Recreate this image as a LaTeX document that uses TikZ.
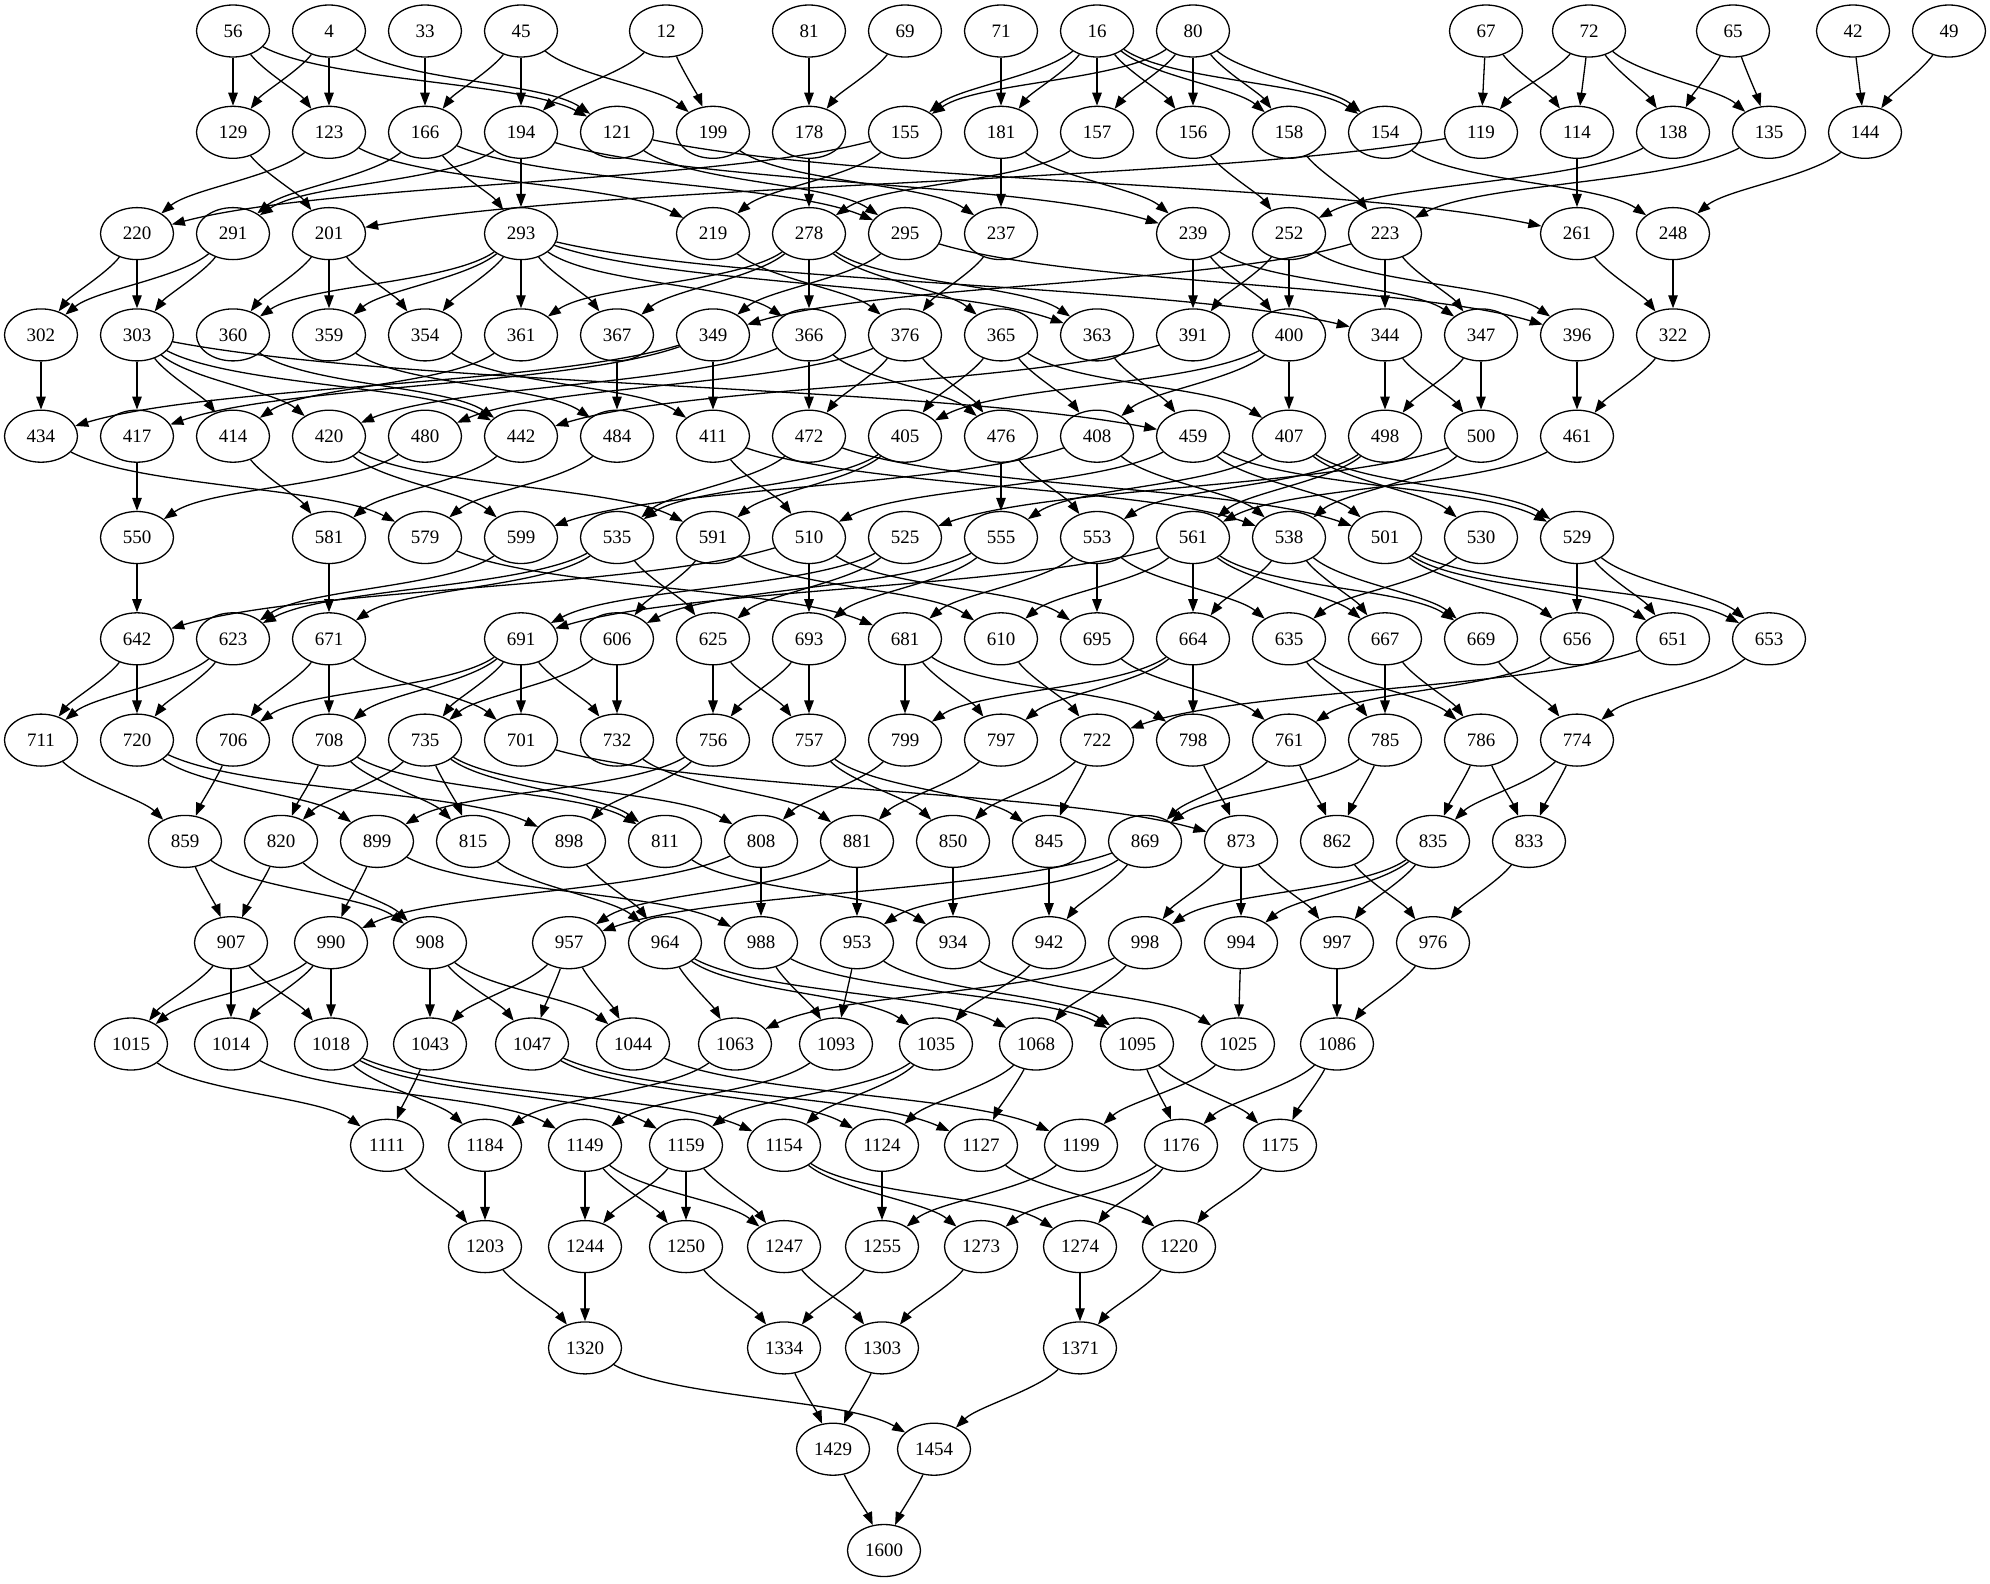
\documentclass[tikz,border=0pt]{standalone}
\usepackage{fontspec}
\setmainfont{Liberation Serif}
\usetikzlibrary{shapes.geometric,arrows.meta,calc}
\newcommand\mkrow[2]{\foreach \nm/\xx in {#2} {\node[nd] (n\nm) at (\xx,#1) {\nm};}}
\newcommand\mke[2]{\draw[edge] let \p1=(n#1.center), \p2=(n#2.center),
  \n5={min(1,abs(\x2-\x1)/300)},
  \n1={(\x2-\x1)*(0.3333-0.0833*\n5)}, \n2={(\y2-\y1)*(0.3333+0.1667*\n5)},
  \n3={(\x1-\x2)*(0.3333-0.0833*\n5)}, \n4={(\y1-\y2)*(0.3333+0.1667*\n5)} in
  (n#1) .. controls +(\n1,\n2) and +(\n3,\n4) .. (n#2);}
\begin{document}
\begin{tikzpicture}[x=1pt,y=-1pt,
  nd/.style={draw, line width=1.3pt, ellipse, minimum width=73pt, minimum height=52pt, inner sep=0pt, font=\fontsize{19}{22}\selectfont},
  edge/.style={line width=1.3pt, -{Triangle[length=13pt,width=9.5pt]}}]
\useasboundingbox (0,0) rectangle (1990,1583);
\mkrow{31}{56/233,4/329,33/425,45/521,12/666,81/809,69/905,71/1001,16/1097,80/1193,67/1486,72/1589,65/1733,42/1853,49/1949}
\mkrow{132.3}{129/233,123/329,166/425,194/521,121/617,199/713,178/809,155/905,181/1001,157/1097,156/1193,158/1289,154/1385,119/1481,114/1577,138/1673,135/1769,144/1865}
\mkrow{233.6}{220/137,291/233,201/329,293/521,219/713,278/809,295/905,237/1001,239/1193,252/1289,223/1385,261/1577,248/1673}
\mkrow{334.9}{302/41,303/137,360/233,359/329,354/425,361/521,367/617,349/713,366/809,376/905,365/1001,363/1097,391/1193,400/1289,344/1385,347/1481,396/1577,322/1673}
\mkrow{436.2}{434/41,417/137,414/233,420/329,480/425,442/521,484/617,411/713,472/809,405/905,476/1001,408/1097,459/1193,407/1289,498/1385,500/1481,461/1577}
\mkrow{537.5}{550/137,581/329,579/425,599/521,535/617,591/713,510/809,525/905,555/1001,553/1097,561/1193,538/1289,501/1385,530/1481,529/1577}
\mkrow{638.8}{642/137,623/233,671/329,691/521,606/617,625/713,693/809,681/905,610/1001,695/1097,664/1193,635/1289,667/1385,669/1481,656/1577,651/1673,653/1769}
\mkrow{740.1}{711/41,720/137,706/233,708/329,735/425,701/521,732/617,756/713,757/809,799/905,797/1001,722/1097,798/1193,761/1289,785/1385,786/1481,774/1577}
\mkrow{841.4}{859/185,820/281,899/377,815/473,898/569,811/665,808/761,881/857,850/953,845/1049,869/1145,873/1241,862/1337,835/1433,833/1529}
\mkrow{942.7}{907/231,990/331,908/430,957/569,964/665,988/761,953/857,934/953,942/1049,998/1145,994/1241,997/1337,976/1433}
\mkrow{1044}{1015/131,1014/231,1018/331,1043/430,1047/532,1044/633,1063/735,1093/836,1035/936,1068/1036,1095/1137,1025/1238,1086/1337}
\mkrow{1145.3}{1111/387,1184/485,1149/585,1159/686,1154/784,1124/882,1127/981,1199/1081,1176/1181,1175/1280}
\mkrow{1246.6}{1203/485,1244/585,1250/686,1247/784,1255/882,1273/981,1274/1080,1220/1179}
\mkrow{1347.9}{1320/585,1334/784,1303/882,1371/1080}
\mkrow{1449.2}{1429/833,1454/934}
\mkrow{1550.5}{1600/884}
\foreach \a/\b in {56/129,56/123,56/121,4/129,4/123,4/121,33/166,45/166,45/194,45/199,12/194,12/199,81/178,69/178,71/181,16/155,16/181,16/157,16/156,16/158,16/154,80/155,80/157,80/156,80/158,80/154,67/119,67/114,72/119,72/114,72/138,72/135,65/138,65/135,42/144,49/144,
129/201,123/220,123/219,166/291,166/293,166/295,194/291,194/293,194/239,121/295,121/261,199/237,178/278,155/220,155/219,181/237,181/239,157/278,156/252,158/223,154/248,119/201,114/261,138/252,135/223,144/248,
220/302,220/303,291/302,291/303,201/360,201/359,201/354,293/360,293/359,293/354,293/361,293/367,293/366,293/363,293/344,219/376,278/361,278/367,278/366,278/365,278/363,295/349,295/396,237/376,239/391,239/400,239/347,252/391,252/400,252/396,223/349,223/344,223/347,261/322,248/322,
302/434,303/417,303/414,303/420,303/442,303/459,360/442,359/484,354/411,361/414,367/484,349/434,349/417,349/411,366/420,366/472,366/476,376/480,376/472,376/476,365/405,365/408,365/407,363/459,391/442,400/405,400/408,400/407,344/498,344/500,347/498,347/500,396/461,322/461,
434/579,417/550,414/581,420/599,420/591,480/550,442/581,484/579,411/510,411/538,472/535,472/501,405/535,405/591,476/555,476/553,408/599,408/538,459/510,459/501,459/529,407/555,407/530,407/529,498/553,498/561,500/538,500/525,461/561,
550/642,581/671,579/681,599/623,535/623,535/671,535/625,510/642,591/606,591/610,510/693,510/695,525/691,525/625,555/606,555/693,553/681,553/695,553/635,561/610,561/691,561/664,561/667,561/669,538/664,538/667,538/669,530/635,501/656,501/651,501/653,529/656,529/651,529/653,
642/711,642/720,623/711,623/720,671/706,671/708,671/701,691/706,691/708,691/735,691/701,691/732,606/732,606/735,625/756,625/757,693/756,693/757,681/799,681/797,681/798,664/799,664/797,664/798,610/722,695/761,635/785,635/786,667/785,667/786,669/774,651/722,656/761,653/774,
711/859,706/859,708/820,708/815,708/811,735/820,735/815,735/811,735/808,720/899,720/898,756/899,756/898,701/873,732/881,757/850,757/845,799/808,797/881,722/845,722/850,798/873,761/869,761/862,785/869,785/862,786/835,786/833,774/835,774/833,
859/907,859/908,820/907,820/908,899/990,899/988,815/964,898/964,811/934,808/990,808/988,881/957,881/953,850/934,869/957,869/953,845/942,869/942,873/998,873/994,873/997,862/976,835/998,835/994,835/997,833/976,
907/1015,907/1014,907/1018,990/1015,990/1014,990/1018,908/1043,908/1047,908/1044,957/1043,957/1047,957/1044,964/1063,964/1035,964/1068,988/1093,988/1095,953/1093,953/1095,934/1025,998/1063,942/1035,998/1068,994/1025,997/1086,976/1086,
1015/1111,1043/1111,1018/1184,1018/1159,1018/1154,1014/1149,1047/1124,1047/1127,1044/1199,1063/1184,1093/1149,1035/1159,1035/1154,1068/1124,1068/1127,1025/1199,1095/1176,1095/1175,1086/1176,1086/1175,
1111/1203,1184/1203,1149/1244,1149/1250,1149/1247,1159/1244,1159/1250,1159/1247,1154/1273,1154/1274,1124/1255,1127/1220,1199/1255,1176/1273,1176/1274,1175/1220,
1203/1320,1244/1320,1250/1334,1247/1303,1255/1334,1273/1303,1274/1371,1220/1371,
1320/1454,1334/1429,1303/1429,1371/1454,1429/1600,1454/1600}
{\mke{\a}{\b}}
\end{tikzpicture}
\end{document}
